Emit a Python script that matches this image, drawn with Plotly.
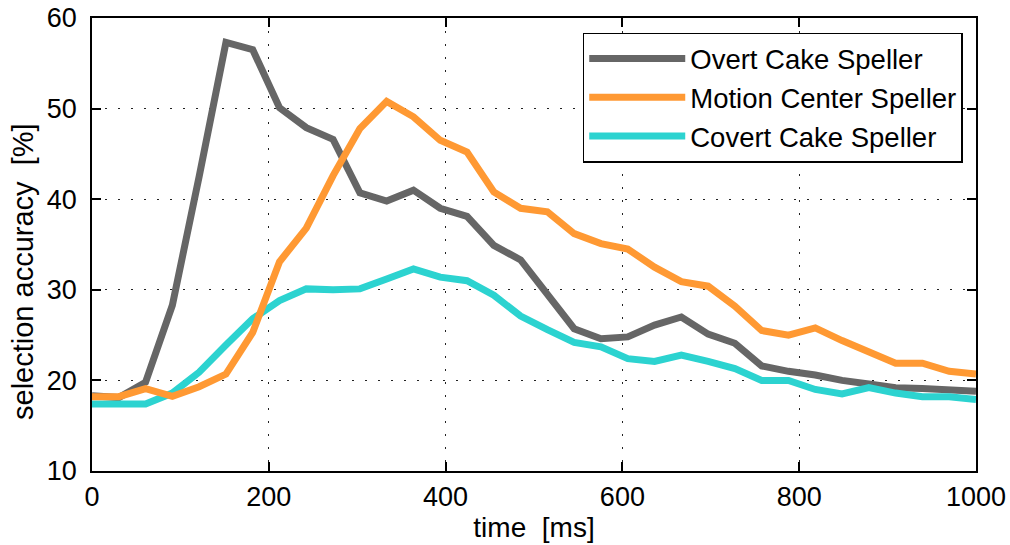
import plotly.graph_objects as go

time_ms = [i * 1000 / 33 for i in range(34)]

overt_cake = [18.3, 18.1, 19.8, 28.3, 42.5, 57.3, 56.5, 50.1, 47.9, 46.6, 40.7, 39.8,
              41.0, 39.0, 38.1, 34.9, 33.3, 29.4, 25.7, 24.6, 24.8, 26.1, 27.0, 25.1,
              24.1, 21.6, 21.0, 20.6, 20.0, 19.6, 19.2, 19.1, 19.0, 18.8]
motion_center = [18.2, 18.2, 19.1, 18.25, 19.3, 20.7, 25.3, 33.1, 36.8, 42.6, 47.8, 50.8,
                 49.1, 46.5, 45.2, 40.8, 39.0, 38.6, 36.2, 35.1, 34.5, 32.5, 30.9, 30.4,
                 28.2, 25.5, 25.0, 25.8, 24.4, 23.1, 21.9, 21.9, 21.0, 20.7]
covert_cake = [17.4, 17.4, 17.4, 18.6, 20.9, 23.9, 26.8, 28.8, 30.1, 30.0, 30.1, 31.2,
               32.3, 31.4, 31.0, 29.4, 27.1, 25.6, 24.2, 23.7, 22.4, 22.1, 22.8, 22.1,
               21.3, 20.0, 20.0, 19.0, 18.5, 19.2, 18.6, 18.2, 18.2, 17.9]

x_ticks = [0, 200, 400, 600, 800, 1000]
y_ticks = [10, 20, 30, 40, 50, 60]

series = [
    ("Overt Cake Speller", overt_cake, "#666666", 1),
    ("Covert Cake Speller", covert_cake, "#2CD3D0", 3),
    ("Motion Center Speller", motion_center, "#FF9933", 2),
]

FAM = "Liberation Sans, Arial, Helvetica, sans-serif"

fig = go.Figure()
for name, vals, color, rank in series:
    fig.add_trace(go.Scatter(x=time_ms, y=vals, mode="lines", name=name,
                             line=dict(color=color, width=7), legendrank=rank))

tick_font = dict(family=FAM, size=27, color="black")
axis_common = dict(
    showline=True, linecolor="black", linewidth=1.5, mirror="ticks",
    ticks="inside", ticklen=9, tickcolor="black", tickwidth=1.5,
    showgrid=True, gridcolor="#222222", gridwidth=1, griddash="2px,11px",
    zeroline=False, tickfont=tick_font, automargin=False,
)

fig.update_layout(
    width=1010, height=545,
    margin=dict(l=92, r=34, t=18, b=74),
    paper_bgcolor="white", plot_bgcolor="white",
    font=dict(family=FAM, size=27, color="black"),
    xaxis=dict(range=[0, 1000], tickvals=x_ticks,
               title=dict(text="time  [ms]", font=dict(family=FAM, size=28, color="black"), standoff=6),
               ticklabelstandoff=1, **axis_common),
    yaxis=dict(range=[10, 60], tickvals=y_ticks, ticklabelstandoff=8, **axis_common),
    legend=dict(x=0.985, y=0.9675, xanchor="right", yanchor="top",
                bgcolor="white", bordercolor="black", borderwidth=1.5,
                font=dict(family=FAM, size=27.5, color="black"),
                itemwidth=96, tracegroupgap=0),
    showlegend=True,
    annotations=[dict(text="selection accuracy  [%]", textangle=-90,
                      xref="paper", yref="paper", x=(23 - 92) / 884, y=1 - (272 - 18) / 453,
                      xanchor="center", yanchor="middle", showarrow=False,
                      font=dict(family=FAM, size=29, color="black"))],
)

fig.write_html("out.html", config={"displayModeBar": False},
               post_script="document.body.style.margin='0';document.body.style.overflow='hidden';")
